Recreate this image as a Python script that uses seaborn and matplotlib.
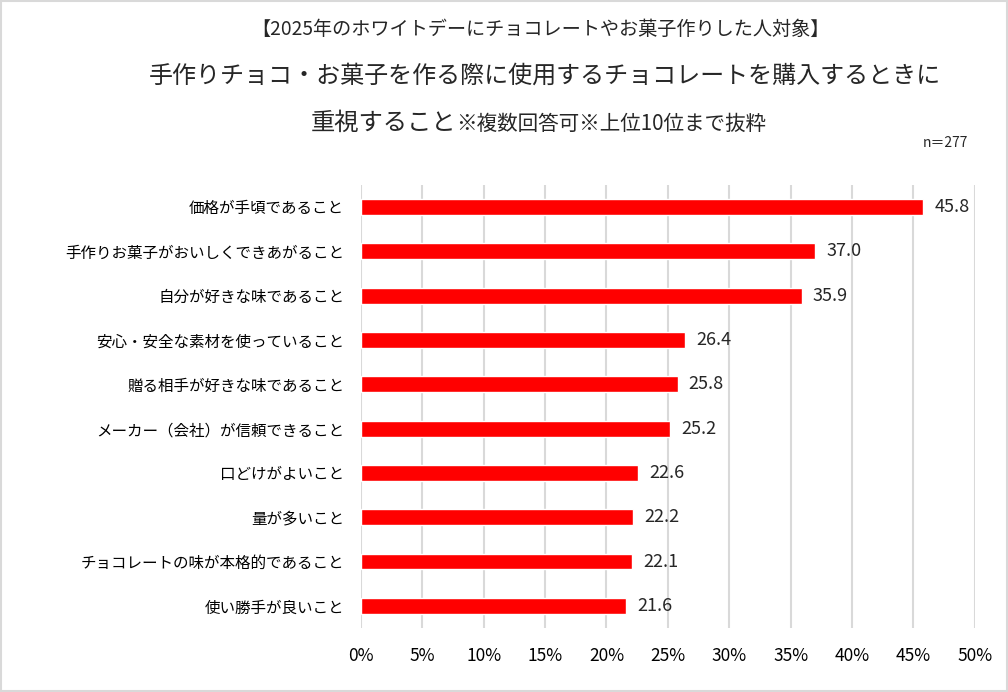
import matplotlib

matplotlib.use("Agg")

import matplotlib.pyplot as plt
import pandas as pd
import seaborn as sns
from matplotlib.patches import Rectangle
from matplotlib.ticker import FuncFormatter

items = [
    "価格が手頃であること",
    "手作りお菓子がおいしくできあがること",
    "自分が好きな味であること",
    "安心・安全な素材を使っていること",
    "贈る相手が好きな味であること",
    "メーカー（会社）が信頼できること",
    "口どけがよいこと",
    "量が多いこと",
    "チョコレートの味が本格的であること",
    "使い勝手が良いこと",
]
shares = [45.8, 37.0, 35.9, 26.4, 25.8, 25.2, 22.6, 22.2, 22.1, 21.6]
x_ticks = [0, 5, 10, 15, 20, 25, 30, 35, 40, 45, 50]

df = pd.DataFrame({"item": items, "share": shares})

sns.set_style("white")
plt.rcParams["font.family"] = ["Noto Sans CJK JP", "DejaVu Sans"]

fig = plt.figure(figsize=(10.08, 6.92), dpi=100)
ax = fig.add_axes([0.358, 0.0925, 0.609, 0.6405])

sns.barplot(data=df, x="share", y="item", orient="h", color="#ff0000",
            saturation=1, width=0.36, ax=ax)

ax.set_xlim(0, 50)
ax.set_ylim(len(items) - 0.5, -0.5)
ax.set_xticks(x_ticks)
ax.xaxis.set_major_formatter(FuncFormatter(lambda v, _: f"{v:.0f}%"))
ax.grid(axis="x", color="#d9d9d9", linewidth=1.5)
ax.set_axisbelow(True)
for s in ax.spines.values():
    s.set_visible(False)
ax.set_xlabel("")
ax.set_ylabel("")
ax.tick_params(axis="x", length=0, pad=14, labelsize=12.5, colors="#000000")
ax.tick_params(axis="y", length=0, pad=12, labelsize=11.2, colors="#000000")

for i, v in enumerate(shares):
    ax.text(v + 0.9, i, f"{v:.1f}", va="center", ha="left", fontsize=13)

fig.text(0.536, 0.957, "【2025年のホワイトデーにチョコレートやお菓子作りした人対象】",
         ha="center", va="center", fontsize=13.8)
fig.text(0.541, 0.890, "手作りチョコ・お菓子を作る際に使用するチョコレートを購入するときに",
         ha="center", va="center", fontsize=17.3)
fig.text(0.453, 0.812, "重視すること", ha="right", va="baseline", fontsize=17.5)
fig.text(0.453, 0.812, "※複数回答可※上位10位まで抜粋", ha="left", va="baseline", fontsize=14.8)
fig.text(0.960, 0.793, "n＝277", ha="right", va="center", fontsize=10)

fig.patches.append(Rectangle((0.001, 0.001), 0.998, 0.998, transform=fig.transFigure,
                             fill=False, edgecolor="#d9d9d9", linewidth=1.5))

fig.savefig("out.png", dpi=100)
